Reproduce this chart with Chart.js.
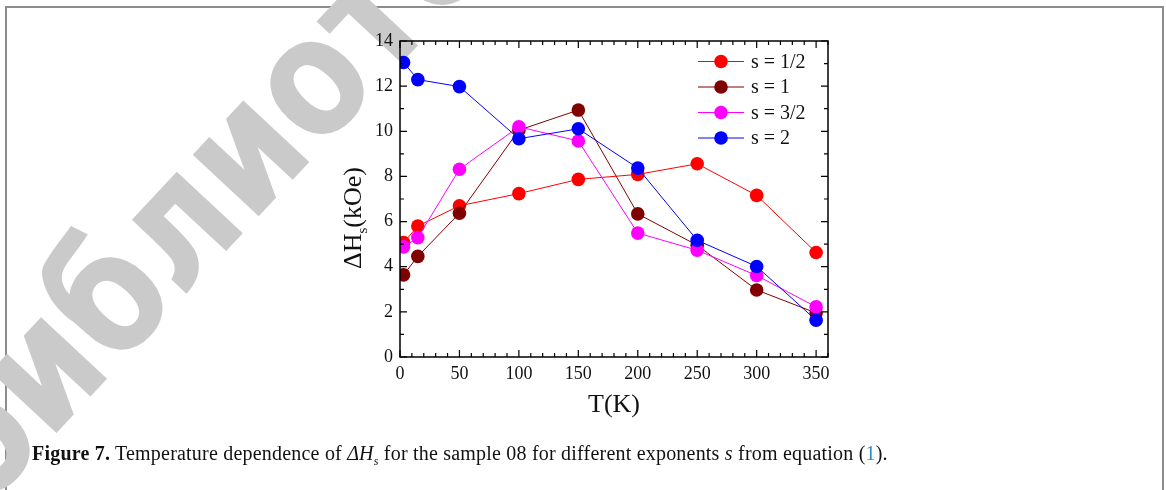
<!DOCTYPE html>
<html>
<head>
<meta charset="utf-8">
<script src="https://cdn.jsdelivr.net/npm/chart.js@4.4.1/dist/chart.umd.min.js"></script>
<style>
  html, body { margin: 0; padding: 0; background: #fff; }
  #page { position: relative; width: 1166px; height: 490px; overflow: hidden; }
  #frame { position: absolute; left: 5px; top: 6px; width: 1155px; height: 600px; border: 2px solid #8c8c8c; }
  #mark { position: absolute; left: -59px; top: 474px; transform-origin: 0 50%;
          font-family: "DejaVu Sans"; font-weight: bold; font-size: 165px; color: #cacaca; white-space: nowrap; line-height: 1; }
  #chart { position: absolute; left: 0; top: 0; }
  #caption { position: absolute; left: 32px; top: 442px; font-family: "Liberation Serif"; font-size: 20px; color: #111; white-space: nowrap; }
  #caption sub { font-size: 12px; }
</style>
</head>
<body>
<div id="page">
  <div id="frame"></div>
  <div id="mark">библиотека</div>
  <canvas id="chart" width="1166" height="490"></canvas>
  <div id="caption"><b>Figure 7.</b> Temperature dependence of <i>ΔH<sub>s</sub></i> for the sample 08 for different exponents <i>s</i> from equation (<span style="color:#2a8fc0">1</span>).</div>
</div>
<script>
// data
var temps = [3, 15, 50, 100, 150, 200, 250, 300, 350];
var sHalf = [5.07, 5.80, 6.70, 7.24, 7.87, 8.09, 8.56, 7.16, 4.63];
var sOne = [3.64, 4.46, 6.37, 10.05, 10.94, 6.34, 4.95, 2.97, 1.95];
var sThreeHalf = [4.88, 5.29, 8.32, 10.20, 9.57, 5.49, 4.73, 3.61, 2.22];
var sTwo = [13.05, 12.29, 11.98, 9.67, 10.11, 8.37, 5.17, 4.01, 1.63];

var seriesNames = ["s = 1/2", "s = 1", "s = 3/2", "s = 2"];
var seriesColors = ["#ff0000", "#800000", "#ff00ff", "#0000ff"];
var xTicks = [0, 50, 100, 150, 200, 250, 300, 350];
var yTicks = [0, 2, 4, 6, 8, 10, 12, 14];

var serif = "'Liberation Serif', 'Times New Roman', serif";

// squeeze the watermark and stretch the caption to the widths seen in the figure
var mark = document.getElementById("mark");
mark.style.transform = "translate(0,-50%) rotate(-47deg) scaleX(" + (950 / mark.offsetWidth) + ")";
var cap = document.getElementById("caption");
cap.style.letterSpacing = ((856 - cap.offsetWidth) / cap.textContent.length) + "px";

function toPoints(vals)
{
  return temps.map(function(t, i) { return {x: t, y: vals[i]}; });
}

function makeSet(i, vals)
{
  return {
    label: seriesNames[i],
    data: toPoints(vals),
    borderColor: seriesColors[i],
    backgroundColor: seriesColors[i],
    borderWidth: 1,
    pointRadius: 6.8,
    pointHoverRadius: 6.8,
    pointBorderWidth: 0,
    fill: false,
    order: 4 - i
  };
}

// inward ticks on all four sides, plus legend and titles
var decor = {
  id: "decor",
  afterDraw: function(chart)
  {
    var ctx = chart.ctx;
    var a = chart.chartArea;
    var xs = chart.scales.x, ys = chart.scales.y;
    ctx.save();
    ctx.strokeStyle = "#000";
    ctx.lineWidth = 1.5;
    ctx.strokeRect(a.left, a.top, a.right - a.left, a.bottom - a.top);

    ctx.lineWidth = 1.2;
    ctx.beginPath();
    for (var v = 0; v <= 360; v += 10)
    {
      var px = xs.getPixelForValue(v);
      var len = (v % 50 == 0) ? 7 : 4;
      ctx.moveTo(px, a.bottom); ctx.lineTo(px, a.bottom - len);
      ctx.moveTo(px, a.top); ctx.lineTo(px, a.top + len);
    }
    for (var w = 0; w <= 14; w += 1)
    {
      var py = ys.getPixelForValue(w);
      var l2 = (w % 2 == 0) ? 7 : 4;
      ctx.moveTo(a.left, py); ctx.lineTo(a.left + l2, py);
      ctx.moveTo(a.right, py); ctx.lineTo(a.right - l2, py);
    }
    ctx.stroke();

    // legend
    ctx.font = "20px " + serif;
    ctx.textBaseline = "middle";
    ctx.textAlign = "left";
    for (var i = 0; i < seriesNames.length; i++)
    {
      var ly = 61.5 + i * 25.5;
      ctx.strokeStyle = seriesColors[i];
      ctx.lineWidth = 1;
      ctx.beginPath();
      ctx.moveTo(698, ly); ctx.lineTo(744, ly);
      ctx.stroke();
      ctx.fillStyle = seriesColors[i];
      ctx.beginPath();
      ctx.arc(721, ly, 6.8, 0, Math.PI * 2);
      ctx.fill();
      ctx.fillStyle = "#111";
      ctx.fillText(seriesNames[i], 751, ly + 1);
    }

    // x title
    ctx.fillStyle = "#111";
    ctx.font = "26px " + serif;
    ctx.textAlign = "center";
    ctx.textBaseline = "alphabetic";
    ctx.fillText("T(K)", (a.left + a.right) / 2, 412);

    // y title with subscript
    ctx.translate(361, 218);
    ctx.rotate(-Math.PI / 2);
    var big = "26px " + serif, small = "15px " + serif;
    ctx.font = big;
    var w1 = ctx.measureText("ΔH").width;
    var w3 = ctx.measureText("(kOe)").width;
    ctx.font = small;
    var w2 = ctx.measureText("s").width;
    var x0 = -(w1 + w2 + w3) / 2;
    ctx.textAlign = "left";
    ctx.font = big;
    ctx.fillText("ΔH", x0, 0);
    ctx.font = small;
    ctx.fillText("s", x0 + w1, 6);
    ctx.font = big;
    ctx.fillText("(kOe)", x0 + w1 + w2, 0);
    ctx.restore();
  }
};

var chart = new Chart(document.getElementById("chart"), {
  type: "line",
  data: {
    datasets: [makeSet(0, sHalf), makeSet(1, sOne), makeSet(2, sThreeHalf), makeSet(3, sTwo)]
  },
  options: {
    responsive: false,
    animation: false,
    events: [],
    layout: { padding: { left: 0, top: 41, right: 338, bottom: 0 } },
    plugins: { legend: { display: false }, tooltip: { enabled: false } },
    scales: {
      x: {
        type: "linear",
        min: 0, max: 360,
        grid: { display: false, drawTicks: false },
        border: { display: false },
        afterBuildTicks: function(s) { s.ticks = xTicks.map(function(v) { return {value: v}; }); },
        afterFit: function(s) { s.height = 133; s.paddingLeft = 0; s.paddingRight = 0; },
        ticks: { font: { family: serif, size: 18 }, color: "#111", padding: 6, maxRotation: 0, autoSkip: false }
      },
      y: {
        min: 0, max: 14,
        grid: { display: false, drawTicks: false },
        border: { display: false },
        afterBuildTicks: function(s) { s.ticks = yTicks.map(function(v) { return {value: v}; }); },
        afterFit: function(s) { s.width = 400; s.paddingTop = 0; s.paddingBottom = 0; },
        ticks: { font: { family: serif, size: 18 }, color: "#111", padding: 7 }
      }
    }
  },
  plugins: [decor]
});
</script>
</body>
</html>
